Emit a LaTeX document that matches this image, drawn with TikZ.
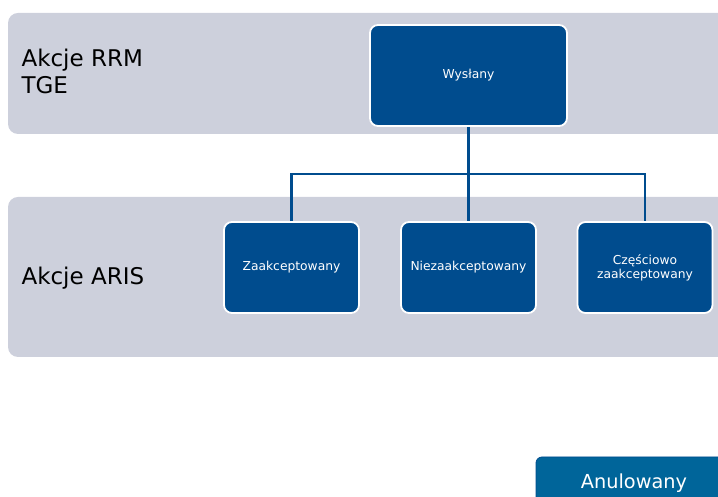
\documentclass[tikz,border=0pt]{standalone}
\usepackage{fontspec}
\setmainfont{DejaVu Sans}
\definecolor{bandgray}{RGB}{205,208,220}
\definecolor{boxblue}{RGB}{0,76,142}
\definecolor{cancelblue}{RGB}{0,101,154}

\begin{document}
\begin{tikzpicture}[x=1pt, y=1pt,
    band/.style={fill=bandgray, rounded corners=10pt},
    lane/.style={anchor=west, align=left, font=\fontsize{23}{27}\selectfont, text=black},
    state/.style={rectangle, rounded corners=8pt, fill=boxblue, draw=white, line width=1.8pt,
      text=white, align=center, font=\fontsize{12.3}{14}\selectfont},
    conn/.style={draw=boxblue, line width=2.2pt}]
  % \draw[gray, very thin, step=50] (0,0) grid (718,497);
  \useasboundingbox (0,0) rectangle (718,497);
  \clip (0,0) rectangle (718,497);

  % swimlanes
  \fill[band] (8,363) rectangle (740,484);
  \fill[band] (8,140) rectangle (740,300);
  \node[lane, name=rrm] at (18,426) {Akcje RRM\\TGE};
  \node[lane, name=aris] at (18,219) {Akcje ARIS};

  % states
  \node[state, name=wys, minimum width=197pt, minimum height=101pt] at (468.5,421.5) {Wysłany};
  \node[state, name=zaak, minimum width=135pt, minimum height=91pt] at (291.5,229.5) {Zaakceptowany};
  \node[state, name=nie, minimum width=135pt, minimum height=91pt] at (468.5,229.5) {Niezaakceptowany};
  \node[state, name=czes, minimum width=135pt, minimum height=91pt] at (645,229.5) {Częściowo\\zaakceptowany};

  \coordinate (split) at (468.5,323);
  \draw[conn] (wys.south) -- (nie.north);
  \draw[conn] (zaak.north) |- (split) -| (czes.north);

  \node[name=anul, rectangle, rounded corners=6pt, fill=cancelblue, draw=boxblue, line width=0.8pt,
    minimum width=196pt, minimum height=52pt, text=white, font=\fontsize{19.3}{21}\selectfont]
    at (634,14) {Anulowany};
\end{tikzpicture}
\end{document}
